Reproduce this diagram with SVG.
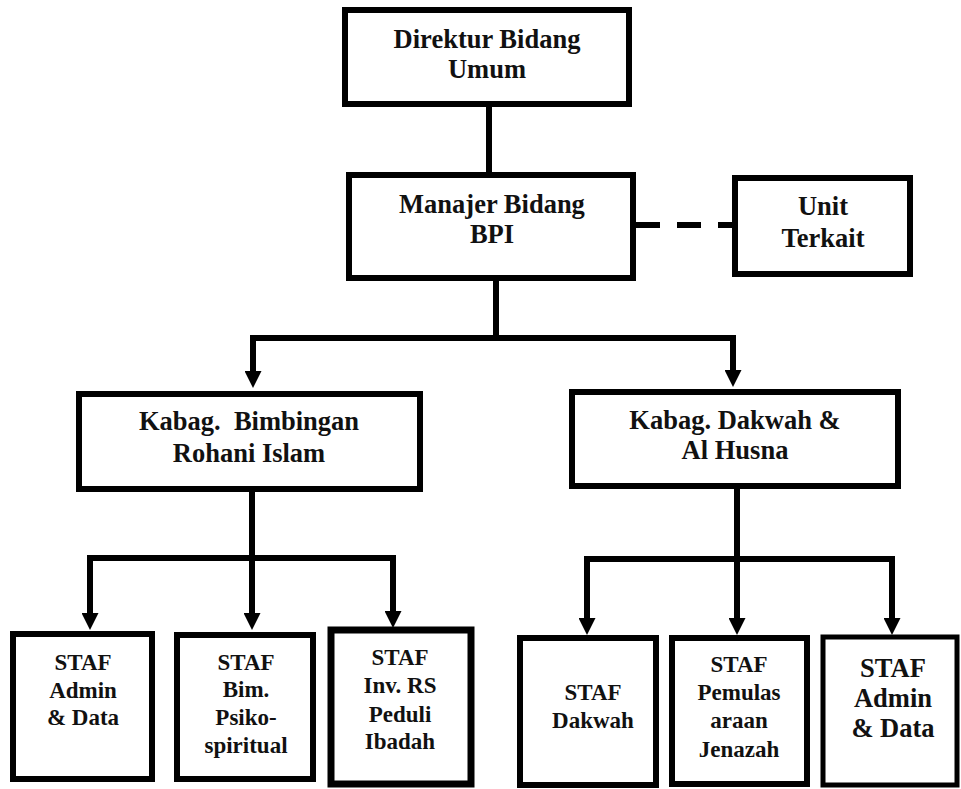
<svg xmlns="http://www.w3.org/2000/svg" width="961" height="789" viewBox="0 0 961 789">
<style>
.box{fill:#fff;stroke:#000;stroke-width:6}
.t{font-family:"Liberation Serif","Times New Roman",Times,"DejaVu Serif","Noto Serif",serif;font-weight:bold;font-size:26.5px;text-anchor:middle;fill:#111}
.s{font-size:23px}
.c{fill:none;stroke:#000;stroke-width:6;stroke-linejoin:miter}
</style>
<defs>
<marker id="ah" viewBox="0 0 17 17" refX="0" refY="8.5" markerWidth="17" markerHeight="17" markerUnits="userSpaceOnUse" orient="auto">
<path d="M0,0 L17,8.5 L0,17 z" fill="#000"/>
</marker>
</defs>
<rect width="961" height="789" fill="#fff"/>
<g id="connectors">
<path class="c" d="M489,107 V172"/>
<path class="c" d="M636,225 H732" stroke-dasharray="24 17"/>
<path class="c" d="M496,281 V338"/>
<path class="c" d="M496,338 H253 V371" marker-end="url(#ah)"/>
<path class="c" d="M496,338 H733 V370" marker-end="url(#ah)"/>
<path class="c" d="M252,492 V558"/>
<path class="c" d="M252,558 H90 V613" marker-end="url(#ah)"/>
<path class="c" d="M252,558 V613" marker-end="url(#ah)"/>
<path class="c" d="M252,558 H393 V611" marker-end="url(#ah)"/>
<path class="c" d="M737,489 V559"/>
<path class="c" d="M737,559 H587 V618" marker-end="url(#ah)"/>
<path class="c" d="M737,559 V618" marker-end="url(#ah)"/>
<path class="c" d="M737,559 H892 V618" marker-end="url(#ah)"/>
</g>
<g id="direktur">
<rect class="box" x="345" y="10" width="284" height="94"/>
<text class="t" x="487" y="48">Direktur Bidang</text>
<text class="t" x="487" y="78">Umum</text>
</g>
<g id="manajer">
<rect class="box" x="349" y="175" width="284" height="103"/>
<text class="t" x="492" y="213">Manajer Bidang</text>
<text class="t" x="492" y="243">BPI</text>
</g>
<g id="unit">
<rect class="box" x="735" y="178" width="175" height="96"/>
<text class="t" x="823" y="215">Unit</text>
<text class="t" x="823" y="247">Terkait</text>
</g>
<g id="kabag1">
<rect class="box" x="79" y="394" width="341" height="95"/>
<text class="t" x="249" y="430" xml:space="preserve">Kabag.  Bimbingan</text>
<text class="t" x="249" y="462">Rohani Islam</text>
</g>
<g id="kabag2">
<rect class="box" x="572" y="392" width="326" height="94"/>
<text class="t" x="735" y="429">Kabag. Dakwah &amp;</text>
<text class="t" x="735" y="459">Al Husna</text>
</g>
<g id="staf1">
<rect class="box" x="13" y="634" width="139" height="145"/>
<text class="t s" x="83" y="670">STAF</text>
<text class="t s" x="83" y="698">Admin</text>
<text class="t s" x="83" y="725">&amp; Data</text>
</g>
<g id="staf2">
<rect class="box" x="177" y="635" width="136" height="144"/>
<text class="t s" x="246" y="670">STAF</text>
<text class="t s" x="246" y="697">Bim.</text>
<text class="t s" x="246" y="725">Psiko-</text>
<text class="t s" x="246" y="753">spiritual</text>
</g>
<g id="staf3">
<rect class="box" x="331" y="630" width="140" height="154" style="stroke-width:7"/>
<text class="t s" x="400" y="665">STAF</text>
<text class="t s" x="400" y="693">Inv. RS</text>
<text class="t s" x="400" y="722">Peduli</text>
<text class="t s" x="400" y="749">Ibadah</text>
</g>
<g id="staf4">
<rect class="box" x="520" y="638" width="136" height="147"/>
<text class="t s" x="593" y="700">STAF</text>
<text class="t s" x="593" y="728">Dakwah</text>
</g>
<g id="staf5">
<rect class="box" x="672" y="638" width="135" height="146"/>
<text class="t s" x="739" y="672">STAF</text>
<text class="t s" x="739" y="700">Pemulas</text>
<text class="t s" x="739" y="728">araan</text>
<text class="t s" x="739" y="757">Jenazah</text>
</g>
<g id="staf6">
<rect class="box" x="823" y="637" width="134" height="148" style="stroke-width:5"/>
<text class="t" x="893" y="677">STAF</text>
<text class="t" x="893" y="707">Admin</text>
<text class="t" x="893" y="737">&amp; Data</text>
</g>
</svg>
